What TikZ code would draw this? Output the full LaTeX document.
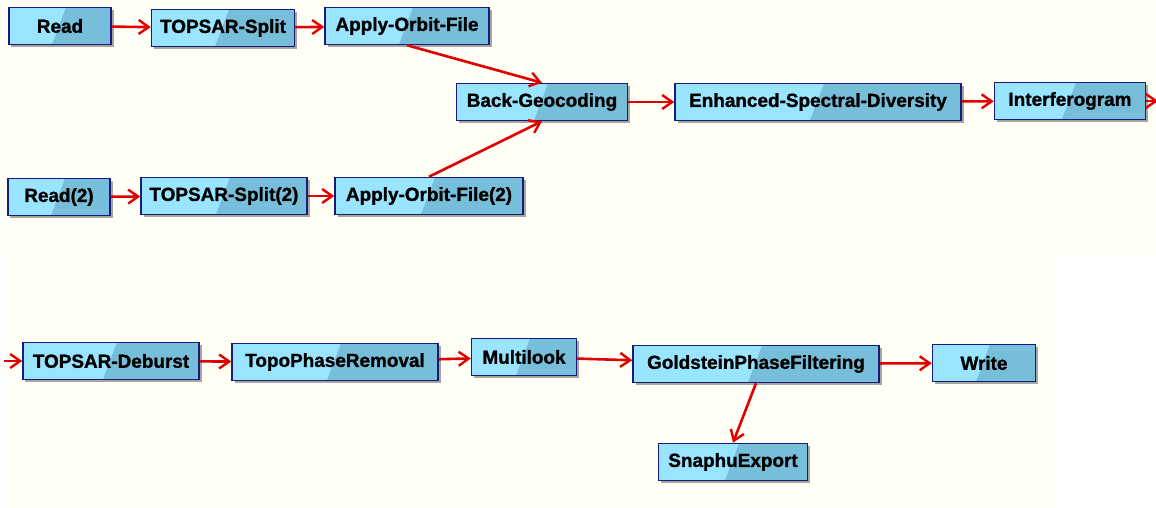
\documentclass[tikz,border=0pt]{standalone}
\usepackage{fontspec}
\setmainfont{Liberation Sans}
\newfontfamily\opfont[FakeBold=1.2]{Liberation Sans Bold}
\usetikzlibrary{arrows.meta,shadows}
\definecolor{bgc}{HTML}{FFFFF5}
\definecolor{lightb}{HTML}{99E4FF}
\definecolor{darkb}{HTML}{76BEDA}
\definecolor{edgec}{HTML}{1A1A7A}
\definecolor{arrc}{HTML}{E00000}
\tikzset{
 op/.style={draw=edgec, line width=1.5bp, minimum height=37bp, inner sep=0pt,
   font=\opfont\fontsize{19}{22}\selectfont, fill=lightb,
   drop shadow={shadow xshift=2.5bp, shadow yshift=-2.5bp, fill=gray, opacity=0.7},
   path picture={\fill[darkb] ([xshift=6bp]path picture bounding box.north) -- (path picture bounding box.north east) -- (path picture bounding box.south east) -- ([xshift=-8bp]path picture bounding box.south) -- cycle;}},
 link/.style={draw=arrc, line width=2.6bp, -{Straight Barb[length=10bp,width=14bp,line width=2.4bp]}}
}
\begin{document}
\begin{tikzpicture}[x=1bp,y=-1bp]
\useasboundingbox (0,0) rectangle (1156,508);
\fill[white] (0,0) rectangle (1156,508);
\fill[bgc] (0,0) rectangle (1156,256);
\fill[bgc] (6,256) rectangle (1053,508);
% top row
\node[op, minimum width=102bp] (read) at (60,26) {Read};
\node[op, minimum width=143bp] (split) at (223,28) {TOPSAR-Split};
\node[op, minimum width=164bp] (aof) at (407,26) {Apply-Orbit-File};
\node[op, minimum width=171bp] (bg) at (542,102) {Back-Geocoding};
\node[op, minimum width=286bp] (esd) at (818,102) {Enhanced-Spectral-Diversity};
\node[op, minimum width=151bp] (ifg) at (1070,101) {Interferogram};
\node[op, minimum width=102bp] (read2) at (59,197) {Read(2)};
\node[op, minimum width=166bp] (split2) at (224,196) {TOPSAR-Split(2)};
\node[op, minimum width=188bp] (aof2) at (429,196) {Apply-Orbit-File(2)};
\coordinate (outr) at (1158,101);
% bottom row
\coordinate (inl) at (4,361);
\node[op, minimum width=176bp] (deb) at (111,361) {TOPSAR-Deburst};
\node[op, minimum width=206bp] (tpr) at (335,362) {TopoPhaseRemoval};
\node[op, minimum width=105bp] (ml) at (524,357) {Multilook};
\node[op, minimum width=246bp] (gpf) at (756,364) {GoldsteinPhaseFiltering};
\node[op, minimum width=103bp] (wr) at (984,363) {Write};
\node[op, minimum width=149bp] (snx) at (733,462) {SnaphuExport};
% links
\draw[link] (read) -- (split);
\draw[link] (split) -- (aof);
\draw[link] (aof.south) -- (bg.north);
\draw[link] (read2) -- (split2);
\draw[link] (split2) -- (aof2);
\draw[link] (aof2.north) -- (bg.south);
\draw[link] (bg) -- (esd);
\draw[link] (esd) -- (ifg);
\draw[link] (ifg) -- (outr);
\draw[link] (inl) -- (deb);
\draw[link] (deb) -- (tpr);
\draw[link] (tpr) -- (ml);
\draw[link] (ml) -- (gpf);
\draw[link] (gpf) -- (wr);
\draw[link] (gpf.south) -- (snx.north);
\end{tikzpicture}
\end{document}
